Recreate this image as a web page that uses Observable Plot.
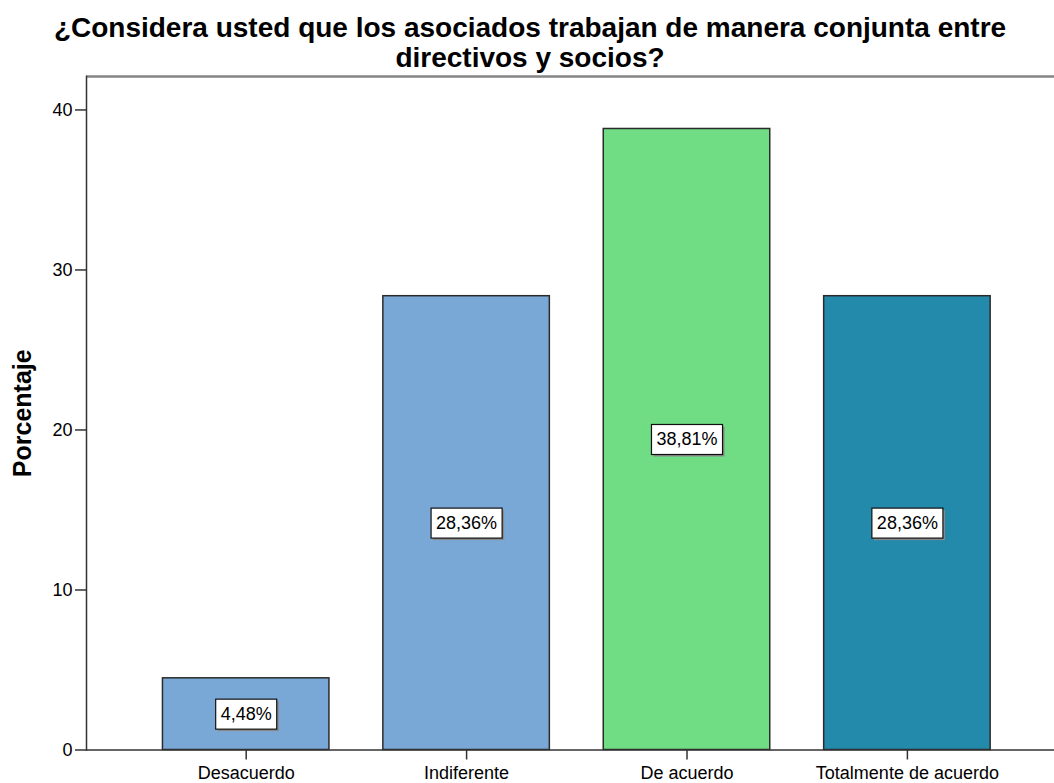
<!DOCTYPE html>
<html>
<head>
<meta charset="utf-8">
<script src="https://cdn.jsdelivr.net/npm/d3@7"></script>
<script src="https://cdn.jsdelivr.net/npm/@observablehq/plot@0.6"></script>
<style>
  html, body { margin: 0; padding: 0; background: #fff; }
  body { width: 1054px; font-family: "Liberation Sans", Arial, sans-serif; }
  #title { height: 70px; box-sizing: border-box; padding-top: 13px; text-align: center;
           font-weight: bold; font-size: 28px; line-height: 30px; color: #000; padding-left: 6px; }
  svg { display: block; }
</style>
</head>
<body>
<div id="title">¿Considera usted que los asociados trabajan de manera conjunta entre<br>directivos y socios?</div>
<div id="chart"></div>
<script>
const categories = ["Desacuerdo", "Indiferente", "De acuerdo", "Totalmente de acuerdo"];
const values = [4.48, 28.36, 38.81, 28.36];
const barColors = ["#7aa8d6", "#7aa8d6", "#70dc84", "#238aab"];
const yTicks = [0, 10, 20, 30, 40];
const yLabel = "Porcentaje";

const data = categories.map((c, i) => ({cat: c, value: values[i]}));
const fmt = v => v.toFixed(2).replace(".", ",") + "%";
const yTop = 42.09;
const labelFont = "18px 'Liberation Sans', Arial, sans-serif";

const measureCanvas = document.createElement("canvas").getContext("2d");
function textWidth(s) { measureCanvas.font = labelFont; return measureCanvas.measureText(s).width; }

// draws a white boxed label (with a shadow) behind each text element
function boxedLabels(index, scales, values, dimensions, context, next) {
  const g = next(index, scales, values, dimensions, context);
  const ns = "http://www.w3.org/2000/svg";
  const texts = Array.from(g.querySelectorAll("text"));
  texts.forEach(t => {
    const tr = t.getAttribute("transform") || "";
    const m = /translate\(([-\d.e]+)[ ,]+([-\d.e]+)\)/.exec(tr);
    let cx = 0, cy = 0;
    if (m) { cx = +m[1]; cy = +m[2]; }
    else { cx = +(t.getAttribute("x") || 0); cy = +(t.getAttribute("y") || 0); }
    const w = textWidth(t.textContent) + 10;
    const h = 30;
    const shadow = context.document.createElementNS(ns, "rect");
    shadow.setAttribute("x", cx - w / 2 + 2);
    shadow.setAttribute("y", cy - h / 2 + 2);
    shadow.setAttribute("width", w);
    shadow.setAttribute("height", h);
    shadow.setAttribute("fill", "#8a8a8a");
    const box = context.document.createElementNS(ns, "rect");
    box.setAttribute("x", cx - w / 2);
    box.setAttribute("y", cy - h / 2);
    box.setAttribute("width", w);
    box.setAttribute("height", h);
    box.setAttribute("fill", "#fff");
    box.setAttribute("stroke", "#111");
    box.setAttribute("stroke-width", 1.2);
    t.parentNode.insertBefore(shadow, t);
    t.parentNode.insertBefore(box, t);
  });
  return g;
}

const chart = Plot.plot({
  width: 1054,
  height: 713,
  marginTop: 6,
  marginBottom: 33.5,
  marginLeft: 86,
  marginRight: 0,
  style: {fontFamily: "'Liberation Sans', Arial, sans-serif", color: "#000", background: "#fff"},
  x: {domain: categories, range: [52.25, 1100.35], paddingInner: 0.2446, paddingOuter: 0.5, round: false, label: null},
  y: {domain: [0, yTop], label: null},
  color: {domain: categories, range: barColors},
  marks: [
    Plot.barY(data, {x: "cat", y: "value", fill: "cat", stroke: "#2b2b2b", strokeWidth: 1.5}),
    Plot.ruleY([yTop], {stroke: "#858585", strokeWidth: 2.5}),
    Plot.frame({anchor: "left", stroke: "#333", strokeWidth: 1.5}),
    Plot.ruleY([0], {stroke: "#333", strokeWidth: 1.5}),
    Plot.axisY({ticks: yTicks, tickSize: 11, tickPadding: 3, fontSize: 18, stroke: "#333", strokeWidth: 1.5, label: null}),
    Plot.axisX({tickSize: 10, tickPadding: 6, fontSize: 18, stroke: "#333", strokeWidth: 1.5, label: null}),
    Plot.text([yLabel], {frameAnchor: "left", textAnchor: "middle", rotate: -90, dx: -64, fontSize: 25, fontWeight: "bold", fill: "#000"}),
    Plot.text(data, {x: "cat", y: d => d.value / 2, text: d => fmt(d.value), fontSize: 18, fill: "#000", render: boxedLabels})
  ]
});
document.getElementById("chart").append(chart);
</script>
</body>
</html>
